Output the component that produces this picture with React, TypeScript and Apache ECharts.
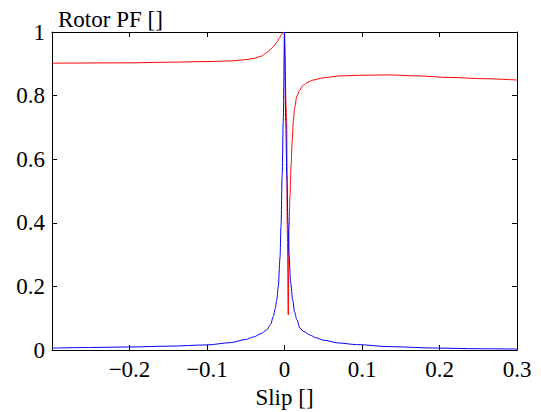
import React, { useEffect, useRef } from "react";
import * as echarts from "echarts";

const xTicks = [-0.3, -0.2, -0.1, 0, 0.1, 0.2, 0.3];
const yTicks = [0, 0.2, 0.4, 0.6, 0.8, 1];

const redSlip = [-0.3, -0.2, -0.15, -0.1, -0.07, -0.05, -0.04, -0.03, -0.023, -0.018, -0.014, -0.01, -0.007, -0.004, -0.002, -0.0006, 0.0028, 0.0036, 0.0049, 0.0053, 0.0058, 0.007, 0.0085, 0.01, 0.0114, 0.013, 0.0158, 0.019, 0.0243, 0.03, 0.037, 0.05, 0.072, 0.1, 0.136, 0.17, 0.214, 0.26, 0.3];
const redPF = [0.902, 0.903, 0.905, 0.907, 0.909, 0.913, 0.917, 0.924, 0.935, 0.945, 0.955, 0.968, 0.98, 0.992, 0.998, 1.0, 0.72, 0.38, 0.11, 0.25, 0.38, 0.48, 0.58, 0.66, 0.72, 0.76, 0.797, 0.815, 0.833, 0.842, 0.849, 0.856, 0.862, 0.864, 0.865, 0.862, 0.857, 0.853, 0.849];

const blueSlip = [-0.3, -0.25, -0.2, -0.15, -0.1, -0.07, -0.05, -0.04, -0.03, -0.023, -0.018, -0.0145, -0.012, -0.01, -0.008, -0.0058, -0.0045, -0.003, -0.0016, 0, 0.0016, 0.003, 0.0045, 0.0058, 0.008, 0.0106, 0.013, 0.016, 0.02, 0.025, 0.033, 0.04, 0.05, 0.07, 0.093, 0.136, 0.197, 0.25, 0.3];
const bluePF = [0.006, 0.008, 0.0095, 0.012, 0.016, 0.023, 0.033, 0.041, 0.052, 0.063, 0.08, 0.105, 0.13, 0.157, 0.2, 0.29, 0.39, 0.55, 0.72, 1.0, 0.72, 0.55, 0.4, 0.3, 0.21, 0.157, 0.12, 0.095, 0.068, 0.058, 0.047, 0.039, 0.031, 0.022, 0.017, 0.0105, 0.006, 0.004, 0.003];

const FONT = "Liberation Serif";

function fmt(v: number): string {
  const r = Math.round(v * 10) / 10;
  const s = String(Math.abs(r));
  return r < 0 ? "\u2212" + s : s;
}

export default function App() {
  const ref = useRef<HTMLDivElement>(null);
  useEffect(() => {
    if (!ref.current) return;
    const chart = echarts.init(ref.current, undefined, { renderer: "svg" });
    const axisCommon = {
      type: "value" as const,
      axisLine: { show: true, onZero: false, lineStyle: { color: "#000", width: 1 } },
      axisTick: { show: true, inside: true, length: 5, lineStyle: { color: "#000", width: 1 } },
      splitLine: { show: false },
    };
    const lineCommon = {
      type: "line" as const,
      xAxisIndex: 0,
      yAxisIndex: 0,
      showSymbol: false,
      smooth: 0.3,
      smoothMonotone: "x" as const,
    };
    const labelStyle = { fontFamily: FONT, fontSize: 23, color: "#000" };
    chart.setOption({
      animation: false,
      backgroundColor: "#fff",
      textStyle: { fontFamily: FONT },
      title: {
        text: "Rotor PF []",
        left: 53,
        top: 3,
        textStyle: { fontFamily: FONT, fontSize: 23, fontWeight: "normal", color: "#000" },
      },
      grid: { left: 52, right: 24, top: 32, bottom: 62, containLabel: false, outerBoundsMode: "none" },
      xAxis: [
        {
          ...axisCommon,
          position: "bottom",
          min: xTicks[0],
          max: xTicks[xTicks.length - 1],
          interval: 0.1,
          name: "Slip []",
          nameLocation: "middle",
          nameGap: 36,
          nameTextStyle: labelStyle,
          axisLabel: {
            show: true,
            showMinLabel: false,
            margin: 8,
            formatter: (v: number) => fmt(v),
            ...labelStyle,
          },
        },
        {
          ...axisCommon,
          position: "top",
          min: xTicks[0],
          max: xTicks[xTicks.length - 1],
          interval: 0.1,
          axisLabel: { show: false },
        },
      ],
      yAxis: [
        {
          ...axisCommon,
          position: "left",
          min: yTicks[0],
          max: yTicks[yTicks.length - 1],
          interval: 0.2,
          axisLabel: {
            show: true,
            margin: 7,
            formatter: (v: number) => fmt(v),
            ...labelStyle,
          },
        },
        {
          ...axisCommon,
          position: "right",
          min: yTicks[0],
          max: yTicks[yTicks.length - 1],
          interval: 0.2,
          axisLabel: { show: false },
        },
      ],
      series: [
        {
          ...lineCommon,
          data: redSlip.map((s, i) => [s, redPF[i]]),
          lineStyle: { color: "#ff0000", width: 1 },
          itemStyle: { color: "#ff0000" },
        },
        {
          ...lineCommon,
          data: blueSlip.map((s, i) => [s, bluePF[i]]),
          lineStyle: { color: "#0000ff", width: 1 },
          itemStyle: { color: "#0000ff" },
        },
      ],
    });
    return () => chart.dispose();
  }, []);
  return (
    <div
      ref={ref}
      style={{ position: "fixed", left: 0, top: 0, width: 541, height: 412, background: "#fff" }}
    />
  );
}
